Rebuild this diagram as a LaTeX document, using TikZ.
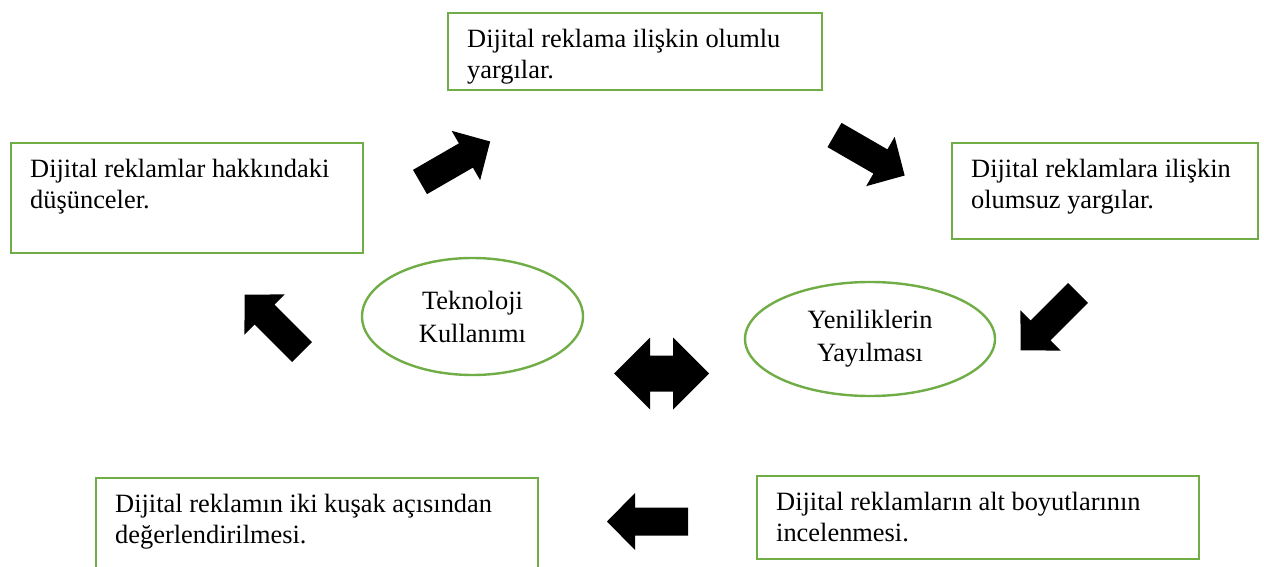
\documentclass[tikz,border=0pt]{standalone}
\usepackage{fontspec}
\setmainfont{Liberation Serif}
\usepackage{tikz}
\usetikzlibrary{shapes.geometric}
\definecolor{boxgreen}{RGB}{112,173,71}
\tikzset{%
  txtbox/.style={draw=boxgreen, line width=1.2pt, anchor=north west, align=flush left,
    inner xsep=9.5pt, inner ysep=8.4pt, text height=8.9pt,
    font=\fontsize{13.2}{15.5}\selectfont},
  oval/.style={ellipse, draw=boxgreen, line width=1.2pt, inner sep=0pt,
    align=center, font=\fontsize{13.2}{16.5}\selectfont},
  blockarrow/.pic={\fill[black] (0,-14) -- (53,-14) -- (53,-28.5) -- (81,0)
    -- (53,28.5) -- (53,14) -- (0,14) -- cycle;},
  twowayarrow/.pic={\fill[black] (-47.5,0) -- (-11.5,-36) -- (-11.5,-18) -- (11.5,-18)
    -- (11.5,-36) -- (47.5,0) -- (11.5,36) -- (11.5,18) -- (-11.5,18) -- (-11.5,36) -- cycle;}
}
\begin{document}
\begin{tikzpicture}[x=0.5pt,y=-0.5pt]
\useasboundingbox (0,0) rectangle (1264,567);
% text boxes
\node[txtbox, text width=168pt, text depth=12.6pt] (olumlu) at (447,12)
  {Dijital reklama ilişkin olumlu\\yargılar.};
\node[txtbox, text width=157pt, text depth=29.1pt] (dusunce) at (10,142)
  {Dijital reklamlar hakkındaki\\düşünceler.};
\node[txtbox, text width=134pt, text depth=22.1pt] (olumsuz) at (951,142)
  {Dijital reklamlara ilişkin\\olumsuz yargılar.};
\node[txtbox, text width=202pt, text depth=23.1pt] (kusak) at (95,477)
  {Dijital reklamın iki kuşak açısından\\değerlendirilmesi.};
\node[txtbox, text width=202pt, text depth=15.6pt] (boyut) at (756,475)
  {Dijital reklamların alt boyutlarının\\incelenmesi.};
% theories
\node[oval, minimum width=110.5pt, minimum height=58.5pt] (tekno) at (472.5,316.5)
  {Teknoloji\\Kullanımı};
\node[oval, minimum width=125pt, minimum height=57pt] (yenilik) at (870,339)
  {Yeniliklerin\\Yayılması};
% block arrows
\pic[rotate=30] (ne) at (420,182) {blockarrow};
\pic[rotate=-30] (se) at (834.5,135) {blockarrow};
\pic[rotate=-135] (sw) at (1078,293) {blockarrow};
\pic[rotate=180] (w) at (688,521.5) {blockarrow};
\pic[rotate=135] (nw) at (302,352) {blockarrow};
\pic (both) at (661.5,373.5) {twowayarrow};
\end{tikzpicture}
\end{document}
